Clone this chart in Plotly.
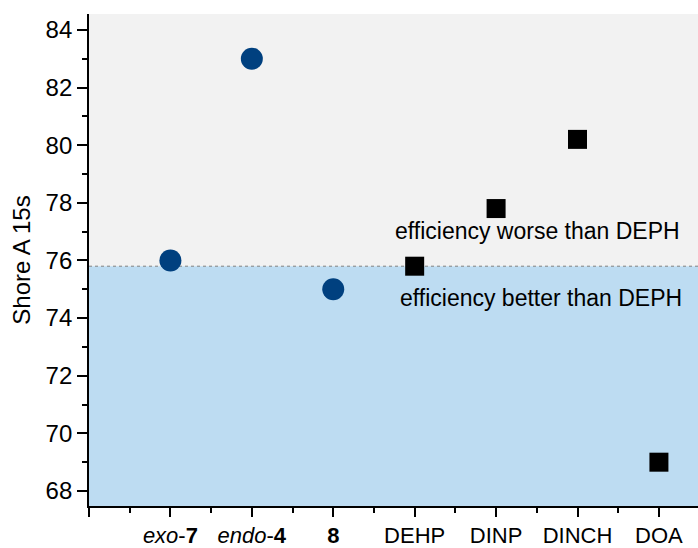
import plotly.graph_objects as go

categories = ["<i>exo</i>-<b>7</b>", "<i>endo</i>-<b>4</b>", "<b>8</b>", "DEHP", "DINP", "DINCH", "DOA"]
cat_pos = [1, 2, 3, 4, 5, 6, 7]
new_pos = [1, 2, 3]
new_vals = [76.0, 83.0, 75.0]
ref_pos = [4, 5, 6, 7]
ref_vals = [75.8, 77.8, 80.2, 69.0]
dehp_value = ref_vals[0]
y_ticks = [68, 70, 72, 74, 76, 78, 80, 82, 84]

y_min, y_max = 67.48, 84.55
font = "Liberation Sans, Arial, sans-serif"

fig = go.Figure()
fig.add_trace(go.Scatter(x=new_pos, y=new_vals, mode="markers",
                         marker=dict(symbol="circle", size=22, color="#00407f"),
                         showlegend=False))
fig.add_trace(go.Scatter(x=ref_pos, y=ref_vals, mode="markers",
                         marker=dict(symbol="square", size=19, color="#000000"),
                         showlegend=False))

fig.add_shape(type="rect", xref="paper", yref="y", x0=0, x1=1, y0=dehp_value, y1=y_max,
              fillcolor="#f2f2f2", line=dict(width=0), layer="below")
fig.add_shape(type="rect", xref="paper", yref="y", x0=0, x1=1, y0=y_min, y1=dehp_value,
              fillcolor="#bddcf2", line=dict(width=0), layer="below")
fig.add_shape(type="line", xref="paper", yref="y", x0=0, x1=1, y0=dehp_value, y1=dehp_value,
              line=dict(color="#808080", width=1, dash="dot"), layer="below")

fig.add_annotation(x=5.506, y=77.03, xref="x", yref="y", text="efficiency worse than DEPH",
                   showarrow=False, font=dict(family=font, size=23, color="#000000"))
fig.add_annotation(x=5.55, y=74.69, xref="x", yref="y", text="efficiency better than DEPH",
                   showarrow=False, font=dict(family=font, size=23, color="#000000"))

fig.update_layout(
    width=698, height=548,
    margin=dict(l=89, r=0, t=14, b=42),
    paper_bgcolor="white", plot_bgcolor="white",
    font=dict(family=font, size=24, color="#000000"),
    xaxis=dict(range=[0, 7.48], tickvals=[0] + cat_pos, ticktext=[""] + categories,
               automargin=False,
               ticks="outside", ticklen=9, tickwidth=1.5, tickcolor="#000",
               showline=True, linecolor="#000", linewidth=1.8, showgrid=False, zeroline=False,
               minor=dict(tickvals=[0.5, 1.5, 2.5, 3.5, 4.5, 5.5, 6.5, 7.5], ticks="outside",
                          ticklen=5, tickwidth=1.5, tickcolor="#000"),
               tickfont=dict(size=22)),
    yaxis=dict(range=[y_min, y_max], tickvals=y_ticks, automargin=False,
               ticks="outside", ticklen=10, tickwidth=1.5, tickcolor="#000",
               showline=True, linecolor="#000", linewidth=1.8, showgrid=False, zeroline=False,
               minor=dict(dtick=1, ticks="outside", ticklen=5, tickwidth=1.5, tickcolor="#000"),
               title=dict(text="Shore A 15s", font=dict(size=24), standoff=8),
               tickfont=dict(size=24)),
)

fig.write_html("out.html")
